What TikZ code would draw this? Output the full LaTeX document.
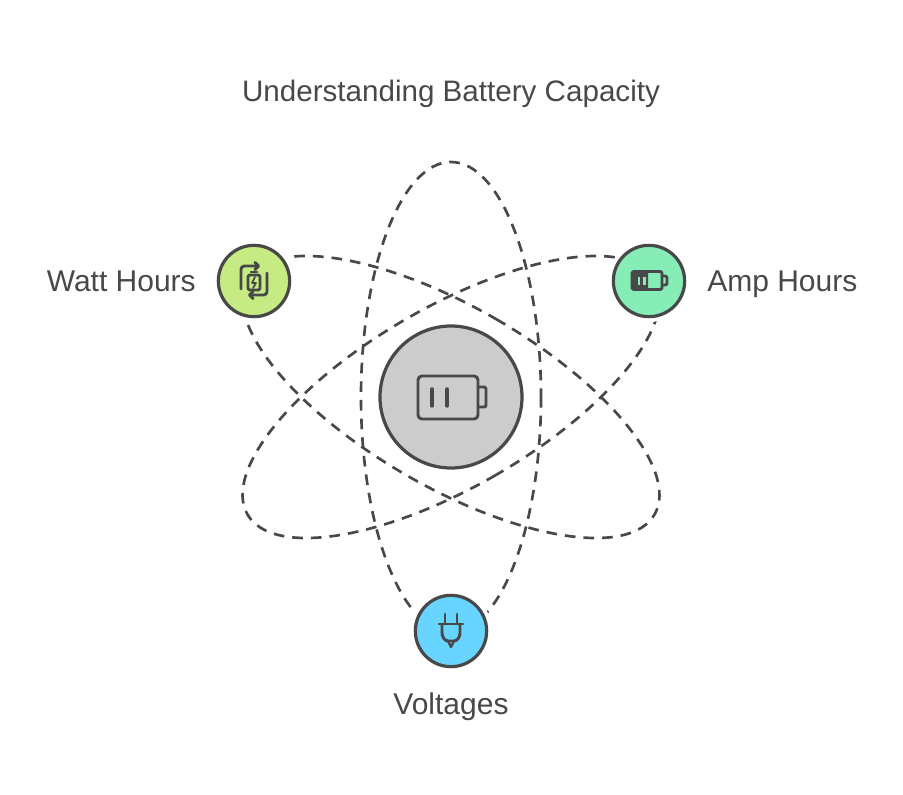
\documentclass[tikz,border=0pt]{standalone}
\usepackage{fontspec}
\setmainfont{Liberation Sans}
\definecolor{ink}{HTML}{484848}
\definecolor{wattgreen}{HTML}{C5EB82}
\definecolor{ampgreen}{HTML}{86EDB6}
\definecolor{voltblue}{HTML}{67D5FF}
\definecolor{coregray}{HTML}{CCCCCC}
\tikzset{
  orbit/.style={draw=ink,line width=2pt,dash pattern=on 8pt off 6pt},
  hub/.style={circle,draw=ink,line width=2.4pt,minimum size=53.5pt,inner sep=0pt,
    preaction={draw=white,line width=8pt}},
  glyph/.style={draw=ink,line width=2.2pt,line cap=round,line join=round},
  caption/.style={text=ink,font=\fontsize{22.5}{27}\selectfont,inner sep=0pt}
}
\begin{document}
\begin{tikzpicture}[x=0.75pt,y=-0.75pt]
\useasboundingbox (0,0) rectangle (903,795);

% Title
\node[caption,anchor=base,font=\fontsize{22.2}{27}\selectfont] (title) at (451,102) {Understanding Battery Capacity};

% Orbits
\draw[orbit] (451,397) ellipse [x radius=90,y radius=235];
\draw[orbit,rotate around={60:(451,397)}] (451,397) ellipse [x radius=90,y radius=235];
\draw[orbit,rotate around={-60:(451,397)}] (451,397) ellipse [x radius=90,y radius=235];

% Centre battery
\node[hub,fill=coregray,minimum size=106.5pt] (core) at (451,397) {};
\draw[glyph,rounded corners=3pt] (418,376) -- (478,376) -- (478,419) -- (418,419) -- cycle;
\draw[glyph,rounded corners=1.5pt] (478,387) -- (486,387) -- (486,407) -- (478,407);
\draw[glyph,line width=2.6pt] (432,389) -- (432,406);
\draw[glyph,line width=2.6pt] (447,389) -- (447,406);

% Watt Hours
\node[hub,fill=wattgreen] (watt) at (254,281) {};
\node[caption,anchor=base east] (wattlabel) at (196,291) {Watt Hours};
\draw[glyph,rounded corners=2.5pt] (241,289) -- (241,266) -- (258,266);
\draw[glyph] (255,262.5) -- (258.5,266) -- (255,269.5);
\draw[glyph,rounded corners=2.5pt] (267,273) -- (267,295) -- (250,295);
\draw[glyph] (253,291.5) -- (249.5,295) -- (253,298.5);
\draw[glyph,rounded corners=1.5pt] (248,275) -- (260,275) -- (260,290) -- (248,290) -- cycle;
\draw[glyph,line width=1.6pt] (251,272) -- (257,272);
\draw[glyph,line width=1.3pt] (255,277) -- (252,283) -- (256,283) -- (253,288);

% Amp Hours
\node[hub,fill=ampgreen] (amp) at (649,281) {};
\node[caption,anchor=base west] (amplabel) at (707,291) {Amp Hours};
\fill[ink,rounded corners=1pt] (632,271) -- (648,271) -- (648,290) -- (632,290) -- cycle;
\fill[ampgreen] (637.5,276.5) rectangle (640,284.5);
\fill[ampgreen] (643,276.5) rectangle (645.5,284.5);
\draw[glyph,rounded corners=1.5pt] (632,271.5) -- (662,271.5) -- (662,289.5) -- (632,289.5) -- cycle;
\draw[glyph,rounded corners=1pt] (662,276) -- (667,276) -- (667,285) -- (662,285);

% Voltages
\node[hub,fill=voltblue] (volt) at (451,631) {};
\node[caption,anchor=base] (voltlabel) at (451,714) {Voltages};
\draw[glyph] (445,614) -- (445,624);
\draw[glyph] (457,614) -- (457,624);
\draw[glyph] (439,624) -- (463,624);
\draw[glyph] (442,624) -- (442,633) .. controls (442,637) and (445,641) .. (448,641)
  -- (454,641) .. controls (457,641) and (460,637) .. (460,633) -- (460,624);
\draw[glyph,line width=1.8pt] (448,641) -- (451,647) -- (454,641);
\end{tikzpicture}
\end{document}
